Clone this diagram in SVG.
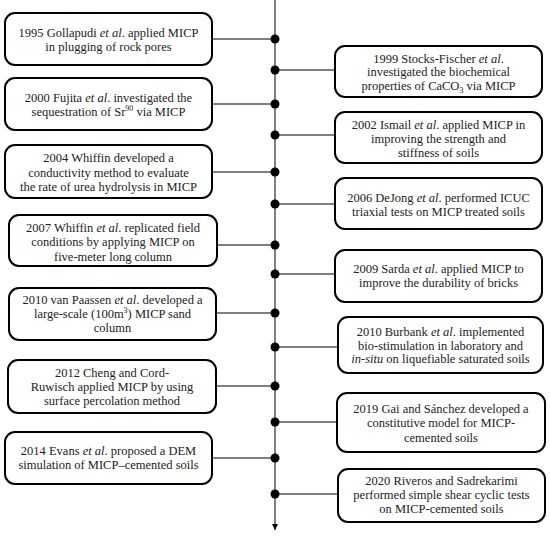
<svg xmlns="http://www.w3.org/2000/svg" width="550" height="536" viewBox="0 0 550 536">
<style>
.box{fill:#fff;stroke:#000;stroke-width:2}
.t{font-family:"Liberation Serif","Times New Roman",serif;font-size:12.5px;fill:#222;text-anchor:middle}
.i{font-style:italic}
.c{stroke:#000;stroke-width:1;fill:none}
.dot{fill:#000}
</style>
<defs>
<marker id="arr" viewBox="0 0 10 10" refX="10" refY="5" markerWidth="6" markerHeight="6" markerUnits="userSpaceOnUse" orient="auto"><path d="M0,0 L10,5 L0,10 z" fill="#000"/></marker>
</defs>
<g id="connectors">
<line class="c" x1="275" y1="0" x2="275" y2="530" stroke-width="1.5" marker-end="url(#arr)"/>
<line class="c" x1="212" y1="39" x2="275" y2="39"/>
<line class="c" x1="275" y1="70" x2="335" y2="70"/>
<line class="c" x1="212" y1="104" x2="275" y2="104"/>
<line class="c" x1="275" y1="135" x2="335" y2="135"/>
<line class="c" x1="212" y1="172" x2="275" y2="172"/>
<line class="c" x1="275" y1="204" x2="335" y2="204"/>
<line class="c" x1="217" y1="245" x2="275" y2="245"/>
<line class="c" x1="275" y1="274" x2="335" y2="274"/>
<line class="c" x1="216" y1="313" x2="275" y2="313"/>
<line class="c" x1="275" y1="347" x2="338" y2="347"/>
<line class="c" x1="216" y1="386" x2="275" y2="386"/>
<line class="c" x1="275" y1="422" x2="337" y2="422"/>
<line class="c" x1="212" y1="458" x2="275" y2="458"/>
<line class="c" x1="275" y1="494" x2="338" y2="494"/>
<circle class="dot" cx="275" cy="39" r="4.5"/>
<circle class="dot" cx="275" cy="70" r="4.5"/>
<circle class="dot" cx="275" cy="104" r="4.5"/>
<circle class="dot" cx="275" cy="135" r="4.5"/>
<circle class="dot" cx="275" cy="172" r="4.5"/>
<circle class="dot" cx="275" cy="204" r="4.5"/>
<circle class="dot" cx="275" cy="245" r="4.5"/>
<circle class="dot" cx="275" cy="274" r="4.5"/>
<circle class="dot" cx="275" cy="313" r="4.5"/>
<circle class="dot" cx="275" cy="347" r="4.5"/>
<circle class="dot" cx="275" cy="386" r="4.5"/>
<circle class="dot" cx="275" cy="422" r="4.5"/>
<circle class="dot" cx="275" cy="458" r="4.5"/>
<circle class="dot" cx="275" cy="494" r="4.5"/>
</g>
<g id="n1995">
<rect class="box" x="5" y="13" width="207" height="52" rx="10"/>
<text class="t" x="108.5" y="37">1995 Gollapudi <tspan class="i">et al</tspan>. applied MICP</text>
<text class="t" x="108.5" y="51">in plugging of rock pores</text>
</g>
<g id="n2000">
<rect class="box" x="5" y="78" width="207" height="52" rx="10"/>
<text class="t" x="108.5" y="102">2000 Fujita <tspan class="i">et al</tspan>. investigated the</text>
<text class="t" x="108.5" y="116">sequestration of Sr<tspan font-size="8" dy="-5">90</tspan><tspan dy="5"> via MICP</tspan></text>
</g>
<g id="n2004">
<rect class="box" x="5" y="145" width="207" height="53" rx="10"/>
<text class="t" x="108.5" y="162">2004 Whiffin developed a</text>
<text class="t" x="108.5" y="176.5">conductivity method to evaluate</text>
<text class="t" x="108.5" y="191">the rate of urea hydrolysis in MICP</text>
</g>
<g id="n2007">
<rect class="box" x="9" y="215" width="208" height="51" rx="10"/>
<text class="t" x="113" y="232">2007 Whiffin <tspan class="i">et al</tspan>. replicated field</text>
<text class="t" x="113" y="246">conditions by applying MICP on</text>
<text class="t" x="113" y="260.5">five-meter long column</text>
</g>
<g id="n2010v">
<rect class="box" x="9" y="288" width="207" height="52" rx="10"/>
<text class="t" x="112.5" y="304">2010 van Paassen <tspan class="i">et al</tspan>. developed a</text>
<text class="t" x="112.5" y="318">large-scale (100m<tspan font-size="8" dy="-5">3</tspan><tspan dy="5">) MICP sand</tspan></text>
<text class="t" x="112.5" y="332">column</text>
</g>
<g id="n2012">
<rect class="box" x="8" y="360" width="208" height="53" rx="10"/>
<text class="t" x="112" y="377">2012 Cheng and Cord-</text>
<text class="t" x="112" y="390.5">Ruwisch applied MICP by using</text>
<text class="t" x="112" y="404.5">surface percolation method</text>
</g>
<g id="n2014">
<rect class="box" x="5" y="432" width="207" height="52" rx="10"/>
<text class="t" x="108.5" y="455">2014 Evans <tspan class="i">et al</tspan>. proposed a DEM</text>
<text class="t" x="108.5" y="469">simulation of MICP–cemented soils</text>
</g>
<g id="n1999">
<rect class="box" x="335" y="46" width="207" height="51" rx="10"/>
<text class="t" x="438.5" y="62.5">1999 Stocks-Fischer <tspan class="i">et al</tspan>.</text>
<text class="t" x="438.5" y="76">investigated the biochemical</text>
<text class="t" x="438.5" y="89.5">properties of CaCO<tspan font-size="8" dy="3">3</tspan><tspan dy="-3"> via MICP</tspan></text>
</g>
<g id="n2002">
<rect class="box" x="335" y="112" width="207" height="51" rx="10"/>
<text class="t" x="438.5" y="129">2002 Ismail <tspan class="i">et al</tspan>. applied MICP in</text>
<text class="t" x="438.5" y="143">improving the strength and</text>
<text class="t" x="438.5" y="157">stiffness of soils</text>
</g>
<g id="n2006">
<rect class="box" x="335" y="178" width="207" height="51" rx="10"/>
<text class="t" x="438.5" y="202">2006 DeJong <tspan class="i">et al</tspan>. performed ICUC</text>
<text class="t" x="438.5" y="215.5">triaxial tests on MICP treated soils</text>
</g>
<g id="n2009">
<rect class="box" x="335" y="250" width="207" height="52" rx="10"/>
<text class="t" x="438.5" y="273">2009 Sarda <tspan class="i">et al</tspan>. applied MICP to</text>
<text class="t" x="438.5" y="287">improve the durability of bricks</text>
</g>
<g id="n2010b">
<rect class="box" x="338" y="317" width="205" height="56" rx="10"/>
<text class="t" x="440.5" y="336">2010 Burbank <tspan class="i">et al</tspan>. implemented</text>
<text class="t" x="440.5" y="349.5">bio-stimulation in laboratory and</text>
<text class="t" x="440.5" y="363"><tspan class="i">in-situ</tspan> on liquefiable saturated soils</text>
</g>
<g id="n2019">
<rect class="box" x="337" y="393" width="208" height="59" rx="10"/>
<text class="t" x="441" y="413">2019 Gai and Sánchez developed a</text>
<text class="t" x="441" y="427">constitutive model for MICP-</text>
<text class="t" x="441" y="441.5">cemented soils</text>
</g>
<g id="n2020">
<rect class="box" x="338" y="469" width="207" height="53" rx="10"/>
<text class="t" x="441.5" y="485">2020 Riveros and Sadrekarimi</text>
<text class="t" x="441.5" y="499">performed simple shear cyclic tests</text>
<text class="t" x="441.5" y="513">on MICP-cemented soils</text>
</g>
</svg>
